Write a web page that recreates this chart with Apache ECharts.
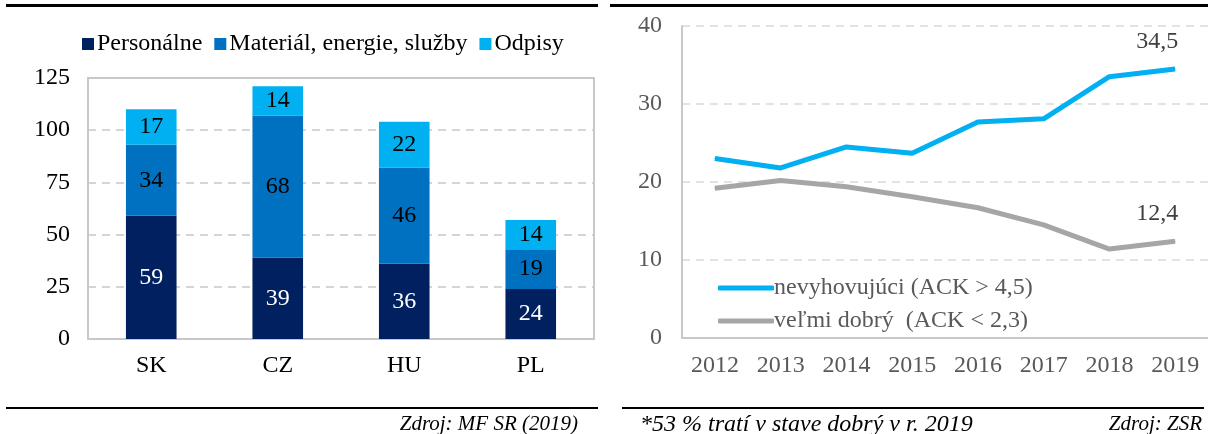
<!DOCTYPE html>
<html><head><meta charset="utf-8">
<script src="https://cdn.jsdelivr.net/npm/echarts@6/dist/echarts.min.js"></script>
<style>html,body{margin:0;padding:0;background:#fff}#c{width:1208px;height:434px}</style>
</head><body><div id="c"></div>
<script>
var categories = ['SK', 'CZ', 'HU', 'PL'];
var personalne = [59, 39, 36, 24];
var material = [34, 68, 46, 19];
var odpisy = [17, 14, 22, 14];
var leftTicks = [0, 25, 50, 75, 100, 125];

var years = ['2012', '2013', '2014', '2015', '2016', '2017', '2018', '2019'];
var nevyhovujuci = [23.0, 21.8, 24.5, 23.7, 27.7, 28.1, 33.5, 34.5];
var velmiDobry = [19.2, 20.2, 19.4, 18.1, 16.7, 14.5, 11.4, 12.4];
var rightTicks = [0, 10, 20, 30, 40];

var FONT = '"Liberation Serif", "Times New Roman", serif';
var FS = 24;
var chart = echarts.init(document.getElementById('c'), null, {renderer: 'canvas'});

function lastLabel(arr) {
  return arr.map(function (v, i) {
    if (i === arr.length - 1) {
      return {value: v, label: {show: true, position: 'top', distance: 15, offset: [-18, 0],
        formatter: function (p) { return String(p.value).replace('.', ','); },
        color: '#404040', fontFamily: FONT, fontSize: FS}};
    }
    return v;
  });
}

var option = {
  animation: false,
  textStyle: {fontFamily: FONT},
  legend: [{
    left: 77, top: 27, itemWidth: 12, itemHeight: 12, itemGap: 12,
    icon: 'rect',
    textStyle: {fontFamily: FONT, fontSize: FS, color: '#000', padding: [0, 0, 0, -2]},
    data: ['Personálne', 'Materiál, energie, služby', 'Odpisy']
  }, {
    left: 713, top: 271, orient: 'vertical', itemWidth: 56, itemHeight: 5, itemGap: 9,
    icon: 'roundRect',
    textStyle: {fontFamily: FONT, fontSize: FS, color: '#595959', padding: [0, 0, 0, -5]},
    data: ['nevyhovujúci (ACK > 4,5)', 'veľmi dobrý  (ACK < 2,3)']
  }],
  grid: [
    {left: 88, top: 78, width: 506, height: 261, show: true, borderColor: '#C8C8C8', borderWidth: 2, containLabel: false},
    {left: 682, top: 26, width: 533, height: 312, containLabel: false}
  ],
  xAxis: [{
    type: 'category', gridIndex: 0, data: categories,
    axisLine: {show: true, lineStyle: {color: '#C8C8C8', width: 2}},
    axisTick: {show: false},
    axisLabel: {color: '#000', fontSize: FS, fontFamily: FONT, margin: 15}
  }, {
    type: 'category', gridIndex: 1, data: years, boundaryGap: true,
    axisLine: {show: true, lineStyle: {color: '#C8C8C8', width: 2}},
    axisTick: {show: false},
    axisLabel: {color: '#595959', fontSize: FS, fontFamily: FONT, margin: 16}
  }],
  yAxis: [{
    type: 'value', gridIndex: 0, min: leftTicks[0], max: leftTicks[leftTicks.length - 1], interval: 25,
    axisLine: {show: false}, axisTick: {show: false},
    axisLabel: {color: '#000', fontSize: FS, fontFamily: FONT, margin: 18},
    splitLine: {show: true, lineStyle: {color: '#C8C8C8', width: 1.5, type: [8, 6]}}
  }, {
    type: 'value', gridIndex: 1, min: rightTicks[0], max: rightTicks[rightTicks.length - 1], interval: 10,
    axisLine: {show: true, lineStyle: {color: '#C8C8C8', width: 2}}, axisTick: {show: false},
    axisLabel: {color: '#595959', fontSize: FS, fontFamily: FONT, margin: 20},
    splitLine: {show: true, lineStyle: {color: '#D9D9D9', width: 1.5, type: [8, 6]}}
  }],
  series: [
    {name: 'Personálne', type: 'bar', stack: 'a', xAxisIndex: 0, yAxisIndex: 0, barWidth: '40%',
     data: personalne, itemStyle: {color: '#002060'},
     label: {show: true, position: 'inside', color: '#fff', fontSize: FS, fontFamily: FONT}},
    {name: 'Materiál, energie, služby', type: 'bar', stack: 'a', xAxisIndex: 0, yAxisIndex: 0,
     data: material, itemStyle: {color: '#0070C0'},
     label: {show: true, position: 'inside', color: '#000', fontSize: FS, fontFamily: FONT}},
    {name: 'Odpisy', type: 'bar', stack: 'a', xAxisIndex: 0, yAxisIndex: 0,
     data: odpisy, itemStyle: {color: '#00B0F0'},
     label: {show: true, position: 'inside', color: '#000', fontSize: FS, fontFamily: FONT}},
    {name: 'nevyhovujúci (ACK > 4,5)', type: 'line', xAxisIndex: 1, yAxisIndex: 1,
     data: lastLabel(nevyhovujuci), symbol: 'circle', symbolSize: 1, showSymbol: true,
     lineStyle: {color: '#00B0F0', width: 5}, itemStyle: {color: '#00B0F0'}},
    {name: 'veľmi dobrý  (ACK < 2,3)', type: 'line', xAxisIndex: 1, yAxisIndex: 1,
     data: lastLabel(velmiDobry), symbol: 'circle', symbolSize: 1, showSymbol: true,
     lineStyle: {color: '#A6A6A6', width: 5}, itemStyle: {color: '#A6A6A6'}}
  ],
  graphic: [
    {type: 'rect', shape: {x: 6, y: 4, width: 592, height: 3}, style: {fill: '#000'}},
    {type: 'rect', shape: {x: 610, y: 4, width: 598, height: 3}, style: {fill: '#000'}},
    {type: 'rect', shape: {x: 6, y: 407, width: 592, height: 2}, style: {fill: '#000'}},
    {type: 'rect', shape: {x: 622, y: 407, width: 582, height: 2}, style: {fill: '#000'}},
    {type: 'text', x: 578, y: 424, style: {text: 'Zdroj: MF SR (2019)', font: 'italic 21px ' + FONT, fill: '#000', align: 'right', verticalAlign: 'middle'}},
    {type: 'text', x: 640, y: 425, style: {text: '*53 % tratí v stave dobrý v r. 2019', font: 'italic 24px ' + FONT, fill: '#000', align: 'left', verticalAlign: 'middle'}},
    {type: 'text', x: 1202, y: 424, style: {text: 'Zdroj: ZSR', font: 'italic 21px ' + FONT, fill: '#000', align: 'right', verticalAlign: 'middle'}}
  ]
};
chart.setOption(option);
</script>
</body></html>
